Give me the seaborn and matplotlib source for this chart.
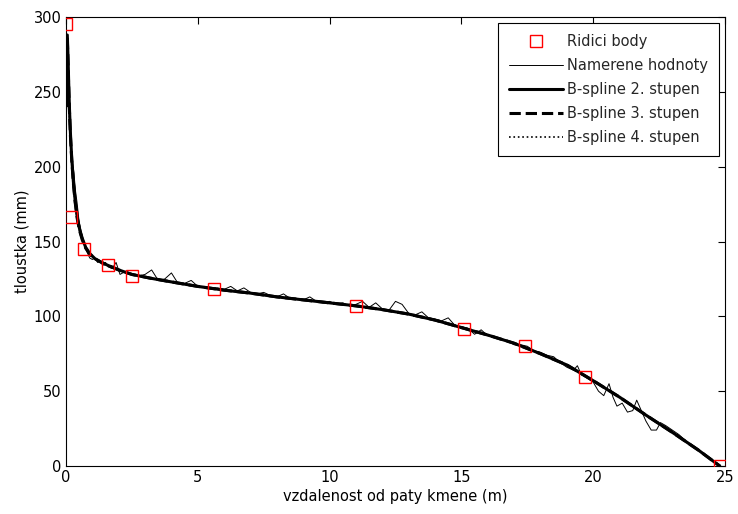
import numpy as np
import pandas as pd
import matplotlib
matplotlib.use("Agg")
import matplotlib.pyplot as plt
import seaborn as sns

# ridici body (control points)
ctrl_x = [0.0, 0.18, 0.68, 1.6, 2.5, 5.6, 11.0, 15.1, 17.4, 19.7, 24.8]
ctrl_y = [295, 166.5, 145, 134, 127, 118, 107, 91.5, 80, 59.5, 0]

# namerene hodnoty (measured values)
meas_x = [0.0, 0.03, 0.05, 0.07, 0.09, 0.11, 0.13, 0.16, 0.2, 0.25, 0.3, 0.36, 0.42,
          0.5, 0.6, 0.7, 0.8, 0.9, 1.0, 1.1, 1.2, 1.3, 1.4, 1.5, 1.6, 1.75, 1.9, 2.05,
          2.25, 2.5, 2.75, 3.0, 3.25, 3.5, 3.75, 4.0, 4.25, 4.5, 4.75, 5.0, 5.25,
          5.5, 5.75, 6.0, 6.25, 6.5, 6.75, 7.0, 7.25, 7.5, 7.75, 8.0, 8.25, 8.5,
          8.75, 9.0, 9.25, 9.5, 9.75, 10.0, 10.25, 10.5, 10.75, 11.0, 11.25, 11.5,
          11.75, 12.0, 12.25, 12.5, 12.75, 13.0, 13.25, 13.5, 13.75, 14.0, 14.25,
          14.5, 14.75, 15.0, 15.25, 15.5, 15.75, 16.0, 16.25, 16.5, 16.75, 17.0,
          17.25, 17.5, 17.75, 18.0, 18.25, 18.5, 18.75, 19.0, 19.25, 19.4, 19.55,
          19.75, 20.0, 20.2, 20.4, 20.6, 20.75, 20.9, 21.1, 21.3, 21.5, 21.65, 21.8,
          22.0, 22.2, 22.4, 22.55, 22.75, 23.0, 23.25, 23.5, 23.75, 24.0, 24.25,
          24.5, 24.75]
meas_y = [293, 285, 240, 270, 250, 262, 228, 236, 212, 204, 196, 184, 176,
          163, 155, 148, 143, 139, 138, 139, 136, 137, 134, 136, 133, 132, 136, 128,
          130, 128, 127, 128, 131, 124, 125, 129, 122, 122, 124, 120, 120,
          119, 119, 118, 120, 117, 119, 116, 115, 116, 114, 113, 115, 112,
          112, 111, 113, 110, 109, 110, 108, 109, 107, 108, 110, 106,
          109, 105, 104, 110, 108, 102, 101, 103, 99, 98, 97,
          99, 94, 93, 92, 88, 91, 87, 86, 85, 84, 81,
          81, 80, 77, 76, 74, 73, 69, 66, 64, 67, 61,
          59, 56, 50, 47, 55, 46, 40, 42, 36, 37, 44, 38,
          30, 24, 24, 29, 27, 24, 21, 17, 14, 11, 7,
          4, 1]

# B-spline krivky
spl_x = [0.05, 0.08, 0.1, 0.13, 0.17, 0.22, 0.28, 0.35, 0.43, 0.52, 0.62, 0.75, 0.9,
         1.1, 1.35, 1.6, 2.0, 2.5, 3.2, 4.0, 5.0, 6.0, 7.0, 8.0, 9.0, 10.0, 11.0,
         12.0, 13.0, 14.0, 15.0, 16.0, 17.0, 18.0, 19.0, 20.0, 21.0, 22.0, 23.0,
         24.0, 24.8]
spl2_y = [288, 272, 258, 240, 222, 205, 190, 177, 166, 158, 152, 146, 142,
          138.5, 136, 134, 131, 128, 125.5, 123, 120, 117.5, 115.5, 113, 111, 109, 107,
          104.5, 101.5, 97.5, 92.5, 87.5, 82, 75, 67.5, 57, 46, 34, 22.5,
          10.5, 0]
spl3_y = [286, 268, 255, 238, 220, 204, 189, 176, 165, 157, 151, 145.5, 141.5,
          138.5, 136, 134, 131, 128, 125.5, 123, 120, 117.5, 115.5, 113, 111, 109, 107,
          104.5, 101.5, 97.5, 92.5, 87.5, 82, 75, 67.5, 57, 46, 34, 22.5,
          10.5, 0]
spl4_y = [284, 265, 252, 236, 219, 203, 188, 175, 164, 156.5, 150.5, 145.5, 141.5,
          138.5, 136, 134, 131, 128, 125.5, 123, 120, 117.5, 115.5, 113, 111, 109, 107,
          104.5, 101.5, 97.5, 92.5, 87.5, 82, 75, 67.5, 57, 46, 34, 22.5,
          10.5, 0]

sns.set_theme(style="white")
plt.rcParams['font.family'] = ['DejaVu Sans']

fig = plt.figure(figsize=(7.38, 5.14), dpi=100)
ax = fig.add_axes([0.0894, 0.0934, 0.893, 0.8735])

df_meas = pd.DataFrame({'x': meas_x, 'y': meas_y})
df_spl = pd.DataFrame({'x': spl_x, 's2': spl2_y, 's3': spl3_y, 's4': spl4_y})

ax.plot(ctrl_x, ctrl_y, linestyle='none', marker='s', markersize=8.5,
        markerfacecolor='none', markeredgecolor='#ff0000', markeredgewidth=1.0,
        label='Ridici body', zorder=5)
sns.lineplot(data=df_meas, x='x', y='y', ax=ax, color='black', linewidth=0.7,
             sort=False, estimator=None, label='Namerene hodnoty')
sns.lineplot(data=df_spl, x='x', y='s2', ax=ax, color='black', linewidth=2.2,
             sort=False, estimator=None, label='B-spline 2. stupen')
sns.lineplot(data=df_spl, x='x', y='s3', ax=ax, color='black', linewidth=2.2,
             linestyle='--', sort=False, estimator=None, label='B-spline 3. stupen')
sns.lineplot(data=df_spl, x='x', y='s4', ax=ax, color='black', linewidth=1.2,
             linestyle=':', sort=False, estimator=None, label='B-spline 4. stupen')

ax.set_xlim(0, 25)
ax.set_ylim(0, 300)
ax.set_xticks([0, 5, 10, 15, 20, 25])
ax.set_yticks([0, 50, 100, 150, 200, 250, 300])
ax.tick_params(direction='in', length=5, width=0.8, top=True, right=True,
               labelsize=10.5, colors='black', pad=3)
for sp in ax.spines.values():
    sp.set_color('black')
    sp.set_linewidth(0.8)
ax.set_xlabel('vzdalenost od paty kmene (m)', fontsize=10.5, color='black', labelpad=3)
ax.set_ylabel('tloustka (mm)', fontsize=10.5, color='black', labelpad=3)

leg = ax.legend(loc='upper right', fontsize=10.5, frameon=True, fancybox=False,
                edgecolor='black', framealpha=1, handlelength=3.7,
                borderaxespad=0.4, labelspacing=0.62, handletextpad=0.3,
                borderpad=0.75)
leg.get_frame().set_linewidth(0.8)

fig.savefig('out.png', dpi=100, facecolor='white')
